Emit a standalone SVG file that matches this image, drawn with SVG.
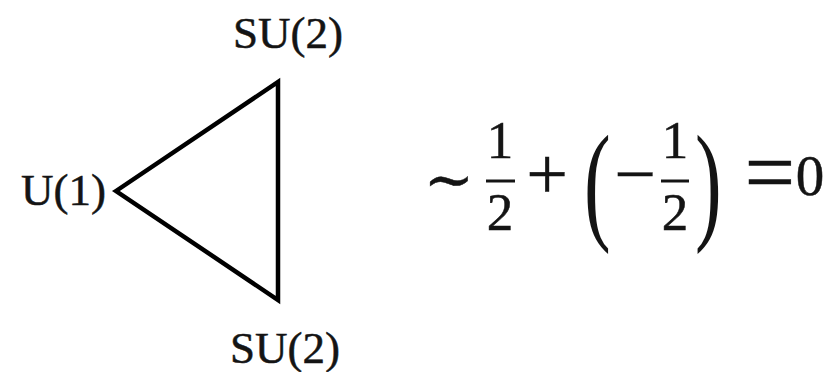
<svg xmlns="http://www.w3.org/2000/svg" width="831" height="372" viewBox="0 0 831 372">
<style>
.lbl{font-family:"Liberation Serif","Times New Roman",serif;fill:#141414;stroke:#141414;stroke-width:0.5}
.num{font-family:"Liberation Serif","Times New Roman",serif;fill:#141414;stroke:#141414;stroke-width:0.5;text-anchor:middle}
.op{font-family:"Liberation Serif","DejaVu Serif",serif;fill:#141414;stroke:#141414;stroke-width:0.4;text-anchor:middle}
.par{font-family:"Liberation Serif","Times New Roman",serif;fill:#141414}
.bar{stroke:#141414;stroke-width:3}
</style>
<rect width="831" height="372" fill="#ffffff"/>
<g id="connectors">
<polygon points="116,191 278,82 278,300" fill="none" stroke="#000" stroke-width="4.5" stroke-linejoin="miter"/>
</g>
<g id="node-su2-top"><text class="lbl" x="233" y="48" font-size="45">SU(2)</text></g>
<g id="node-u1"><text class="lbl" x="21" y="205" font-size="45">U(1)</text></g>
<g id="node-su2-bottom"><text class="lbl" x="230" y="363" font-size="45">SU(2)</text></g>
<g id="equation">
<text class="op" x="449" y="200" font-size="60">∼</text>
<text class="num" x="500" y="158" font-size="53">1</text>
<line class="bar" x1="486" y1="181" x2="515" y2="181"/>
<text class="num" x="500" y="230" font-size="53">2</text>
<text class="op" x="547" y="199" font-size="74">+</text>
<text class="par" x="0" y="0" font-size="80" transform="translate(584,226) scale(1,1.65)">(</text>
<text class="op" x="635" y="199" font-size="74">−</text>
<text class="num" x="675" y="158" font-size="53">1</text>
<line class="bar" x1="661" y1="181" x2="689" y2="181"/>
<text class="num" x="675" y="230" font-size="53">2</text>
<text class="par" x="0" y="0" font-size="80" transform="translate(695,226) scale(1,1.65)">)</text>
<text class="op" x="770" y="203" font-size="90">=</text>
<text class="num" x="810" y="195" font-size="57">0</text>
</g>
</svg>
